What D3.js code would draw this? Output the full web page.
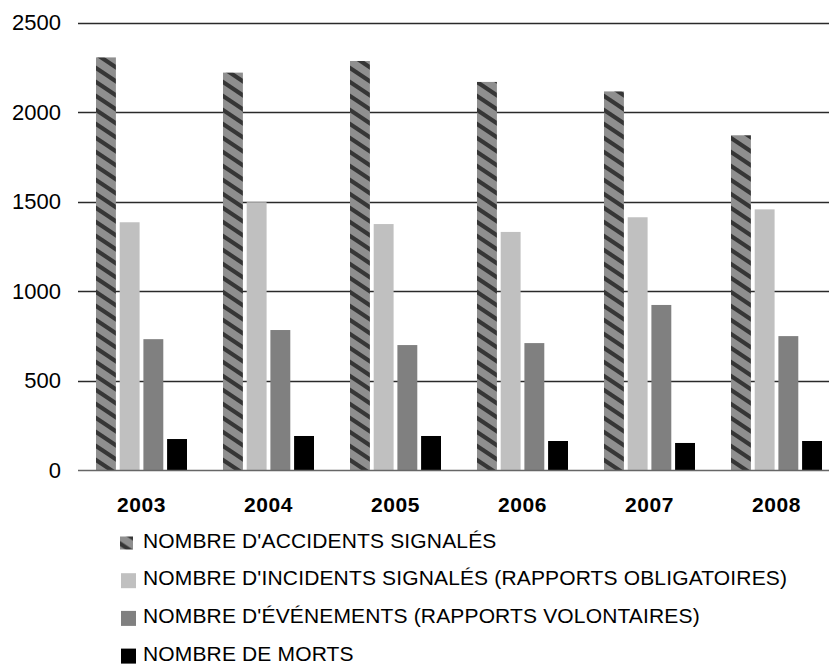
<!DOCTYPE html>
<html>
<head>
<meta charset="utf-8">
<script src="https://cdn.jsdelivr.net/npm/d3@7"></script>
<style>
  html, body { margin: 0; padding: 0; background: #fff; }
  svg { display: block; font-family: "Liberation Sans", Arial, sans-serif; }
</style>
</head>
<body>
<svg id="chart" width="829" height="664"></svg>
<script>
const years = ["2003", "2004", "2005", "2006", "2007", "2008"];
const seriesNames = [
  "NOMBRE D'ACCIDENTS SIGNALÉS",
  "NOMBRE D'INCIDENTS SIGNALÉS (RAPPORTS OBLIGATOIRES)",
  "NOMBRE D'ÉVÉNEMENTS (RAPPORTS VOLONTAIRES)",
  "NOMBRE DE MORTS"
];
const accidents = [2305, 2220, 2285, 2168, 2115, 1870];
const incidents = [1384, 1496, 1374, 1330, 1412, 1456];
const evenements = [731, 782, 698, 709, 922, 748];
const morts = [173, 190, 190, 162, 151, 162];
const yTicks = [0, 500, 1000, 1500, 2000, 2500];

const seriesValues = [accidents, incidents, evenements, morts];
const fills = ["url(#hatch)", "#c0c0c0", "#808080", "#000000"];

const svg = d3.select("#chart");
const defs = svg.append("defs");
const pw = 21, ph = 14;
const pat = defs.append("pattern")
  .attr("id", "hatch").attr("patternUnits", "userSpaceOnUse")
  .attr("width", pw).attr("height", ph);
pat.append("rect").attr("width", pw).attr("height", ph).attr("fill", "#8f8f8f");
[-1, 0, 1].forEach(k => {
  pat.append("line")
    .attr("x1", -pw).attr("y1", k * ph - ph)
    .attr("x2", 2 * pw).attr("y2", k * ph + 2 * ph)
    .attr("stroke", "#363636").attr("stroke-width", 4.2);
});

const plotLeft = 78, plotRight = 840, plotTop = 22.5, plotBottom = 470;
const y = d3.scaleLinear().domain([0, 2500]).range([plotBottom, plotTop]);
const x0 = d3.scaleBand().domain(years).range([plotLeft, plotRight]).paddingInner(0).paddingOuter(0);
const x1 = d3.scaleBand().domain(d3.range(4)).range([18, 109]).paddingInner(0.16).paddingOuter(0);

// gridlines
svg.append("g").selectAll("line").data(yTicks.filter(d => d > 0)).join("line")
  .attr("x1", plotLeft).attr("x2", 829)
  .attr("y1", d => Math.round(y(d)) + 0.5).attr("y2", d => Math.round(y(d)) + 0.5)
  .attr("stroke", "#2a2a2a").attr("stroke-width", 1.4);

// y labels
svg.append("g").selectAll("text").data(yTicks).join("text")
  .attr("x", 61).attr("y", d => y(d)).attr("dy", "0.36em")
  .attr("text-anchor", "end").attr("font-size", 22).attr("fill", "#000")
  .text(d => d);

// bars
const groups = svg.append("g").selectAll("g").data(years).join("g")
  .attr("transform", d => `translate(${x0(d)},0)`);
groups.selectAll("rect").data((d, i) => seriesValues.map((s, k) => ({ k, v: s[i] })))
  .join("rect")
  .attr("x", d => x1(d.k)).attr("width", x1.bandwidth())
  .attr("y", d => y(d.v)).attr("height", d => y(0) - y(d.v))
  .attr("fill", d => fills[d.k]);

// baseline
svg.append("line").attr("x1", plotLeft).attr("x2", 829)
  .attr("y1", Math.round(y(0)) + 0.5).attr("y2", Math.round(y(0)) + 0.5)
  .attr("stroke", "#666").attr("stroke-width", 1.4);

// x labels
svg.append("g").selectAll("text").data(years).join("text")
  .attr("x", d => x0(d) + 18 + 45.5).attr("y", 511.5)
  .attr("text-anchor", "middle").attr("font-size", 21).attr("font-weight", "bold")
  .attr("letter-spacing", 0.6)
  .text(d => d);

// legend
const legend = svg.append("g").selectAll("g").data(seriesNames).join("g")
  .attr("transform", (d, i) => `translate(0,${547.5 + i * 37.7})`);
legend.append("rect")
  .attr("x", (d, i) => i === 0 ? 120 : 121).attr("y", (d, i) => i === 0 ? -11 : -12)
  .attr("width", (d, i) => i === 0 ? 13 : 15).attr("height", (d, i) => i === 0 ? 13 : 15)
  .attr("fill", (d, i) => fills[i]);
legend.append("text").attr("x", 143).attr("y", 0)
  .attr("font-size", 21).attr("letter-spacing", 0.15).attr("fill", "#000").text(d => d);
</script>
</body>
</html>
